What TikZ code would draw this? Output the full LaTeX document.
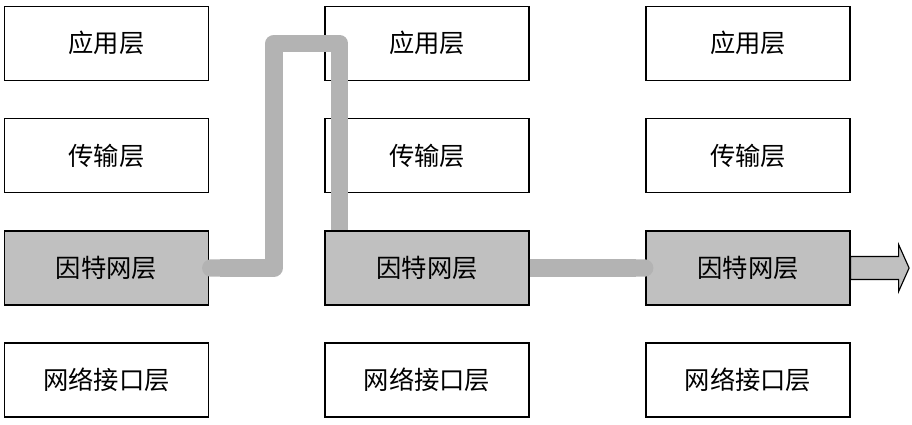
\documentclass[tikz,border=0pt]{standalone}
\usepackage{fontspec}
\newfontfamily\cjk{Noto Sans CJK SC}
\usepackage{tikz}
\usetikzlibrary{positioning, calc, arrows.meta}
\definecolor{layergray}{RGB}{192,192,192}
\definecolor{pathgray}{RGB}{179,179,179}
\tikzstyle{layer} = [rectangle, minimum width=5.1cm, minimum height=1.85cm, text centered, draw=black, line width=0.8pt, fill=white, font=\cjk\fontsize{18}{22}\selectfont]
\tikzstyle{active} = [layer, fill=layergray]
\tikzstyle{link} = [line width=12.4pt, draw=pathgray, line join=round, line cap=butt]

\begin{document}
\begin{tikzpicture}[x=0.025cm, y=-0.025cm]
\useasboundingbox (0,0) rectangle (912,424);

% ===== HOST A =====
\node (app1) [layer] at (106.5, 43.25) {应用层};
\node (trans1) [layer] at (106.5, 155.75) {传输层};
\node (net1) [active] at (106.5, 268) {因特网层};
\node (link1) [layer] at (106.5, 380) {网络接口层};

% ===== ROUTER =====
\node (app2) [layer] at (427, 43.25) {应用层};
\node (trans2) [layer] at (427, 155.75) {传输层};
\node (net2) [active] at (427, 268) {因特网层};
\node (link2) [layer] at (427, 380) {网络接口层};

% ===== HOST B =====
\node (app3) [layer] at (748, 43.25) {应用层};
\node (trans3) [layer] at (748, 155.75) {传输层};
\node (net3) [active] at (748, 268) {因特网层};
\node (link3) [layer] at (748, 380) {网络接口层};

% ===== DATA PATH =====
\coordinate (up1) at (274, 43.3);
\coordinate (top2) at (339.5, 43.3);
\draw [link, {Round Cap[]}-] ($(net1.east)+(-7,0)$) -| (up1) -- (top2) -- (top2 |- net2.north);
\draw [link, -{Round Cap[]}] (net2.east) -- ($(net3.west)+(8,0)$);

% outgoing arrow
\draw [fill=layergray, line width=0.8pt] (net3.east) ++(0,-11.5) -- ++(48,0) -- ++(0,-12) -- ++(10.5,23.5)
  -- ++(-10.5,23.5) -- ++(0,-12) -- ++(-48,0) -- cycle;

\end{tikzpicture}
\end{document}
